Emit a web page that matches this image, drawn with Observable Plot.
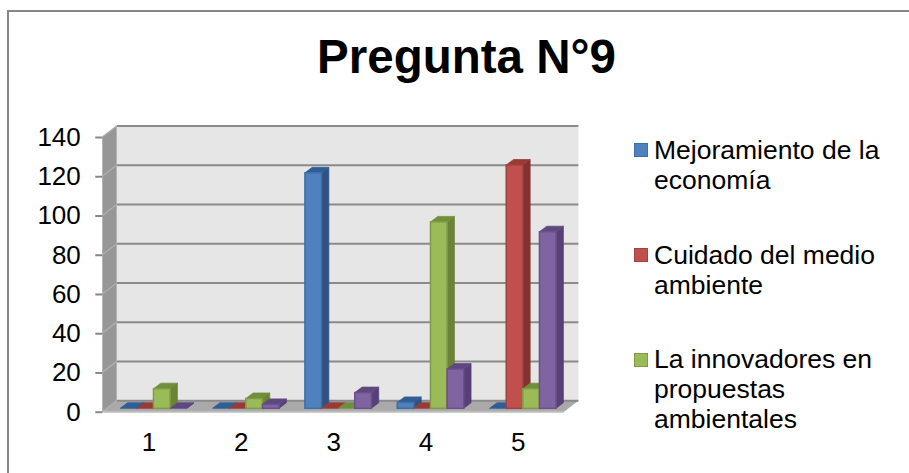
<!DOCTYPE html>
<html lang="es">
<head>
<meta charset="utf-8">
<script src="https://cdn.jsdelivr.net/npm/d3@7"></script>
<script src="https://cdn.jsdelivr.net/npm/@observablehq/plot@0.6"></script>
<style>
  html, body { margin: 0; padding: 0; background: #fff; }
  #page { position: relative; width: 909px; height: 473px; overflow: hidden;
          font-family: "Liberation Sans", Arial, sans-serif; color: #000; }
  #border { position: absolute; left: 7px; top: 9.5px; right: 0; bottom: 0;
            border-left: 2px solid #868686; border-top: 2px solid #868686; }
  #chart { position: absolute; left: 0; top: 0; }
  h1 { position: absolute; left: 0; top: 30px; width: 933px; margin: 0; text-align: center;
       font-size: 47.5px; line-height: 54px; font-weight: bold; }
  #legend { position: absolute; left: 0; top: 0; font-size: 26.5px; line-height: 30px; }
  .entry { position: absolute; left: 654px; white-space: nowrap; }
  .swatch { position: absolute; left: 634px; width: 12px; height: 12px; border: 1.5px solid; }
</style>
</head>
<body>
<div id="page">
  <div id="border"></div>
  <div id="chart"></div>
  <h1>Pregunta N°9</h1>
  <div id="legend"></div>
</div>
<script>
const categories = [1, 2, 3, 4, 5];
const mejoramiento = [0, 0, 120, 3, 0];
const cuidado = [0, 0, 0, 0, 124];
const innovadores = [10, 5, 0, 95, 10];
const serieMorada = [0, 2, 8, 20, 90];
const yTicks = [0, 20, 40, 60, 80, 100, 120, 140];

const frontColors = ["#4f81bd", "#c0504d", "#9bbb59", "#8064a2"];
const edgeColors = ["#3f6ea8", "#a5413e", "#7f9c45", "#6b5189"];
const sideColors = ["#2f5380", "#843230", "#6a8336", "#573f78"];
const topColors = ["#2f5e96", "#9a3a37", "#6f8f3a", "#5f4880"];

// The legend lists three entries only, with these line breaks.
const legendEntries = [
  {series: 0, lines: ["Mejoramiento de la", "economía"], top: 135, swatch: 143},
  {series: 1, lines: ["Cuidado del medio", "ambiente"], top: 240, swatch: 248},
  {series: 2, lines: ["La innovadores en", "propuestas", "ambientales"], top: 344, swatch: 353}
];

// Perspective of the 3D box and of the bars standing inside it, in pixels.
const wallDx = 14.4, wallDy = -11;
const barDx = 5, barDy = -3.4;
const prismDx = 7.3, prismDy = -5.5;
const barWidth = 0.18;

const rows = [mejoramiento, cuidado, innovadores, serieMorada].flatMap((values, s) =>
  values.map((value, c) => ({
    series: s,
    category: categories[c],
    value,
    x1: categories[c] + (s - 2) * barWidth,
    x2: categories[c] + (s - 1) * barWidth
  }))
).sort((a, b) => a.category - b.category || a.series - b.series);

// Back wall, side wall, floor and gridlines of the box.
function box(index, {x, y}) {
  const g = d3.create("svg:g");
  const left = x(0.5), right = x(5.5), bottom = y(0), top = y(140);
  const poly = (points, fill) => g.append("polygon")
    .attr("points", points.map((p) => p.join(",")).join(" "))
    .attr("fill", fill);
  poly([[left + wallDx, top + wallDy], [right + wallDx, top + wallDy],
        [right + wallDx, bottom + wallDy], [left + wallDx, bottom + wallDy]], "#e6e6e6");
  poly([[left, top], [left + wallDx, top + wallDy],
        [left + wallDx, bottom + wallDy], [left, bottom]], "#979797");
  poly([[left, bottom], [left + wallDx, bottom + wallDy],
        [right + wallDx, bottom + wallDy], [right, bottom]], "#a9a9a9");
  for (const t of yTicks) {
    const v = y(t);
    g.append("line")
      .attr("x1", left + wallDx).attr("x2", right + wallDx)
      .attr("y1", v + wallDy).attr("y2", v + wallDy)
      .attr("stroke", "#8a8a8a").attr("stroke-width", 2);
    g.append("line")
      .attr("x1", left).attr("x2", left + wallDx)
      .attr("y1", v).attr("y2", v + wallDy)
      .attr("stroke", "#adadad").attr("stroke-width", 1.5);
  }
  g.append("line")
    .attr("x1", left).attr("x2", right)
    .attr("y1", bottom).attr("y2", bottom)
    .attr("stroke", "#bcbcbc").attr("stroke-width", 2);
  return g.node();
}

// Adds the top and side faces behind every front rectangle.
function prisms(index, scales, values, dimensions, context, next) {
  const g = next(index, scales, values, dimensions, context);
  const fronts = Array.from(g.querySelectorAll("rect"));
  fronts.forEach((rect, k) => {
    const row = rows[index[k]];
    const X = +rect.getAttribute("x"), Y = +rect.getAttribute("y");
    const W = +rect.getAttribute("width"), H = +rect.getAttribute("height");
    const face = (points, fill) => {
      const p = document.createElementNS("http://www.w3.org/2000/svg", "polygon");
      p.setAttribute("points", points.map((q) => q.join(",")).join(" "));
      p.setAttribute("fill", fill);
      p.setAttribute("stroke", fill);
      p.setAttribute("stroke-width", 0.75);
      rect.parentNode.insertBefore(p, rect);
    };
    face([[X + W, Y], [X + W + prismDx, Y + prismDy],
          [X + W + prismDx, Y + H + prismDy], [X + W, Y + H]], sideColors[row.series]);
    face([[X, Y], [X + W, Y], [X + W + prismDx, Y + prismDy], [X + prismDx, Y + prismDy]],
         topColors[row.series]);
  });
  return g;
}

const plot = Plot.plot({
  width: 909,
  height: 473,
  marginLeft: 102.3,
  marginRight: 345,
  marginTop: 137,
  marginBottom: 61.3,
  style: {background: "transparent", fontFamily: "'Liberation Sans', Arial, sans-serif"},
  x: {domain: [0.5, 5.5], axis: null},
  y: {domain: [0, 140], axis: null},
  color: {domain: d3.range(frontColors.length), range: frontColors},
  marks: [
    box,
    Plot.rect(rows, {
      x1: "x1",
      x2: "x2",
      y1: () => 0,
      y2: "value",
      fill: "series",
      stroke: (d) => edgeColors[d.series],
      strokeWidth: 1.5,
      dx: barDx,
      dy: barDy,
      render: prisms
    }),
    Plot.axisY({
      ticks: yTicks,
      tickSize: 7,
      tickPadding: 15,
      stroke: "#868686",
      strokeWidth: 2,
      fill: "#000",
      fontSize: 26,
      label: null,
      tickFormat: (d) => String(d)
    }),
    Plot.axisX({
      ticks: categories,
      tickSize: 0,
      tickPadding: 20,
      fill: "#000",
      fontSize: 26,
      label: null,
      tickFormat: (d) => String(d)
    })
  ]
});
document.getElementById("chart").append(plot);

const legend = d3.select("#legend");
for (const entry of legendEntries) {
  legend.append("div").attr("class", "swatch")
    .style("top", entry.swatch + "px")
    .style("background", frontColors[entry.series])
    .style("border-color", edgeColors[entry.series]);
  legend.append("div").attr("class", "entry")
    .style("top", entry.top + "px")
    .html(entry.lines.join("<br>"));
}
</script>
</body>
</html>
